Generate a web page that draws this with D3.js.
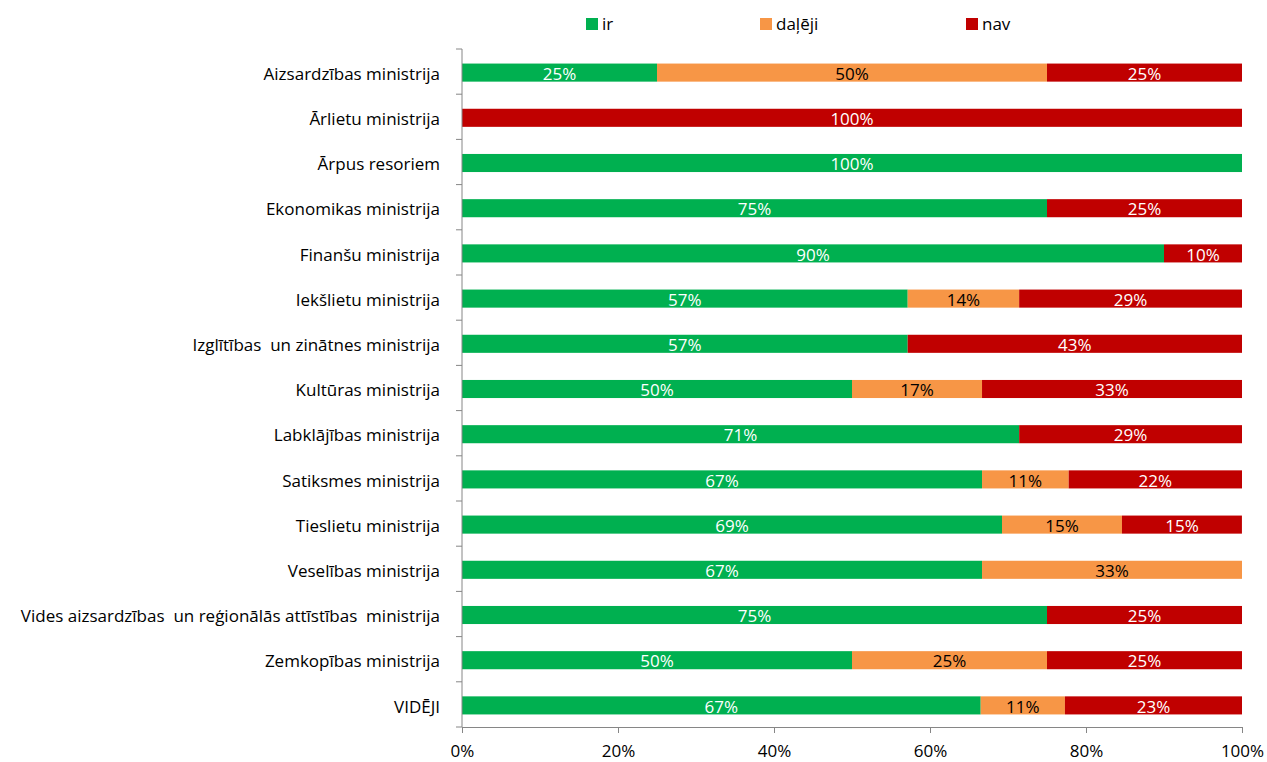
<!DOCTYPE html>
<html lang="lv">
<head>
<meta charset="utf-8">
<title>Ministrijas</title>
<script src="https://d3js.org/d3.v7.min.js"></script>
<style>
  body { margin: 0; background: #fff; }
  #chart text { font-family: "Open Sans", sans-serif; font-size: 17px; fill: #000; white-space: pre; }
  .axis path, .axis line { stroke: #868686; }
</style>
</head>
<body>
<div id="chart"></div>
<script>
"use strict";
// dati
var kategorijas = ["Aizsardzības ministrija", "Ārlietu ministrija", "Ārpus resoriem",
  "Ekonomikas ministrija", "Finanšu ministrija", "Iekšlietu ministrija",
  "Izglītības  un zinātnes ministrija", "Kultūras ministrija", "Labklājības ministrija",
  "Satiksmes ministrija", "Tieslietu ministrija", "Veselības ministrija",
  "Vides aizsardzības  un reģionālās attīstības  ministrija", "Zemkopības ministrija", "VIDĒJI"];
var serijas = ["ir", "daļēji", "nav"];
var ir     = [25, 0, 100, 75, 90, 57.14, 57.14, 50, 71.43, 66.67, 69.23, 66.67, 75, 50, 66.5];
var daleji = [50, 0, 0, 0, 0, 14.29, 0, 16.67, 0, 11.11, 15.38, 33.33, 0, 25, 10.8];
var nav    = [25, 100, 0, 25, 10, 28.57, 42.86, 33.33, 28.57, 22.22, 15.38, 0, 25, 25, 22.7];
var xTicks = [0, 20, 40, 60, 80, 100];

var krasas = ["#00B050", "#F79646", "#C00000"];
var tekstaKrasas = ["#fff", "#000", "#fff"];

var W = 1267, H = 762;
var margin = {top: 49, right: 25, bottom: 35, left: 462};
var w = W - margin.left - margin.right, h = H - margin.top - margin.bottom;

var dati = kategorijas.map(function(k, i) {
  return {kat: k, "ir": ir[i], "daļēji": daleji[i], "nav": nav[i]};
});
var steks = d3.stack().keys(serijas)(dati);

var svg = d3.select("#chart").append("svg").attr("width", W).attr("height", H);
var g = svg.append("g").attr("transform", "translate(" + margin.left + "," + margin.top + ")");

var x = d3.scaleLinear().domain([0, 100]).range([0, w]);
var y = d3.scaleBand().domain(kategorijas).range([0, h]).paddingInner(0.6).paddingOuter(0.3);
var color = d3.scaleOrdinal().domain(serijas).range(krasas);

// stabiņi
var slani = g.selectAll("g.serija").data(steks).enter().append("g").attr("class", "serija");
slani.selectAll("rect").data(function(d) { return d.map(function(p) { return {p: p, key: d.key}; }); })
  .enter().append("rect")
  .attr("x", function(d) { return x(d.p[0]); })
  .attr("y", function(d) { return y(d.p.data.kat) + 1; })
  .attr("width", function(d) { return x(d.p[1]) - x(d.p[0]); })
  .attr("height", y.bandwidth())
  .attr("fill", function(d) { return color(d.key); });

slani.selectAll("text").data(function(d, si) {
    return d.filter(function(p) { return p[1] - p[0] > 0; }).map(function(p) { return {p: p, si: si}; });
  })
  .enter().append("text")
  .attr("x", function(d) { return x((d.p[0] + d.p[1]) / 2); })
  .attr("y", function(d) { return y(d.p.data.kat) + y.bandwidth() / 2 + 2; })
  .attr("dy", "0.36em")
  .attr("text-anchor", "middle")
  .style("fill", function(d) { return tekstaKrasas[d.si]; })
  .text(function(d) { return Math.round(d.p[1] - d.p[0]) + "%"; });

// asis
var xAxis = g.append("g").attr("class", "axis").attr("transform", "translate(0," + h + ")")
  .call(d3.axisBottom(x).tickValues(xTicks).tickSize(6).tickPadding(9).tickFormat(function(d) { return d + "%"; }));
xAxis.selectAll("text").attr("dy", "0.9em");

var yAxis = g.append("g").attr("class", "axis");
yAxis.append("line").attr("x1", 0).attr("x2", 0).attr("y1", 0).attr("y2", h);
var robezas = d3.range(kategorijas.length + 1).map(function(i) { return i * h / kategorijas.length; });
yAxis.selectAll("line.tick").data(robezas).enter().append("line").attr("class", "tick")
  .attr("x1", -6).attr("x2", 0).attr("y1", function(d) { return d; }).attr("y2", function(d) { return d; });
yAxis.selectAll("text").data(kategorijas).enter().append("text")
  .attr("x", -22)
  .attr("y", function(d) { return y(d) + y.bandwidth() / 2 + 2; })
  .attr("dy", "0.36em")
  .attr("text-anchor", "end")
  .text(function(d) { return d; });

// leģenda
var legX = [586, 760, 966];
var leg = svg.selectAll("g.leg").data(serijas).enter().append("g").attr("class", "leg")
  .attr("transform", function(d, i) { return "translate(" + legX[i] + ",18)"; });
leg.append("rect").attr("width", 12).attr("height", 12).attr("fill", function(d) { return color(d); });
leg.append("text").attr("x", 16).attr("y", 6).attr("dy", "0.36em").text(function(d) { return d; });
</script>
</body>
</html>
